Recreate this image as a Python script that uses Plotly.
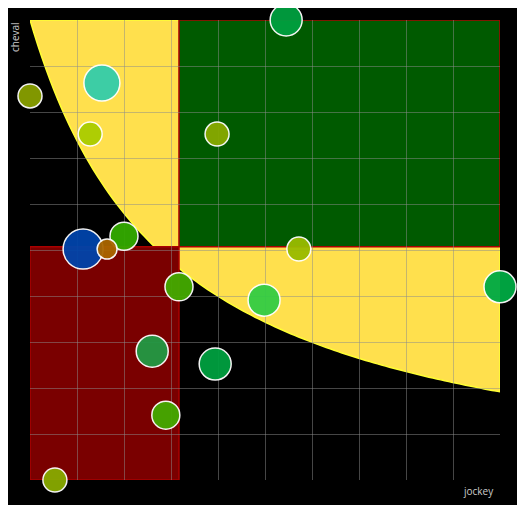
import plotly.graph_objects as go
import numpy as np

jockey = [5.45, 1.53, 0.0, 1.28, 3.98, 2.0, 1.13, 1.64, 5.72, 3.17, 4.98, 10.0, 2.60, 3.94, 2.89, 0.53]
cheval = [10.0, 8.63, 8.35, 7.52, 7.52, 5.30, 5.02, 5.02, 5.02, 4.20, 3.91, 4.20, 2.80, 2.52, 1.41, 0.0]
sizes = [32, 36, 24, 24, 24, 28, 40, 20, 24, 28, 32, 32, 32, 32, 28, 24]
colors = ["#00a040", "#33ccaa", "#88a000", "#aacc00", "#88aa00", "#33aa00", "#0044aa", "#aa6600",
          "#99bb00", "#44aa00", "#33cc44", "#00aa44", "#229944", "#00a040", "#44aa00", "#88aa00"]

xs = np.linspace(0, 10, 120)
ys = 31.54 / (xs + 3) - 0.51
path = "M " + " L ".join(f"{x},{y}" for x, y in zip(xs, ys)) + " L 10,10 Z"

fig = go.Figure(go.Scatter(
    x=jockey, y=cheval, mode="markers", cliponaxis=False,
    marker=dict(size=sizes, color=colors, opacity=0.95, line=dict(color="white", width=1.5)),
))
fig.update_layout(
    width=525, height=505, margin=dict(l=22, r=33, t=12, b=33),
    paper_bgcolor="black", plot_bgcolor="black", showlegend=False,
    shapes=[
        dict(type="path", path=path, fillcolor="#ffe04d", line=dict(color="#ffff33", width=1.5), layer="below"),
        dict(type="rect", x0=3.17, x1=10, y0=5.07, y1=10, fillcolor="#005a00", line=dict(color="#aa0000", width=1.5), layer="below"),
        dict(type="rect", x0=0, x1=3.17, y0=0, y1=5.07, fillcolor="#7a0000", line=dict(color="#aa0000", width=1.5), layer="below"),
    ],
    annotations=[
        dict(text="cheval", x=0, y=1, xref="paper", yref="paper", xanchor="right", yanchor="top",
             textangle=-90, showarrow=False, xshift=-6, font=dict(color="#cccccc", size=10, family="Open Sans")),
        dict(text="jockey", x=1, y=0, xref="paper", yref="paper", xanchor="right", yanchor="top",
             showarrow=False, xshift=-4, yshift=-2, font=dict(color="#cccccc", size=10, family="Open Sans")),
    ],
)
ax = dict(range=[0, 10], dtick=1, showticklabels=False, showgrid=True, gridcolor="rgba(140,140,140,0.5)",
          zeroline=False, showline=False, ticks="")
fig.update_xaxes(**ax)
fig.update_yaxes(**ax)
fig.write_html("out.html")
